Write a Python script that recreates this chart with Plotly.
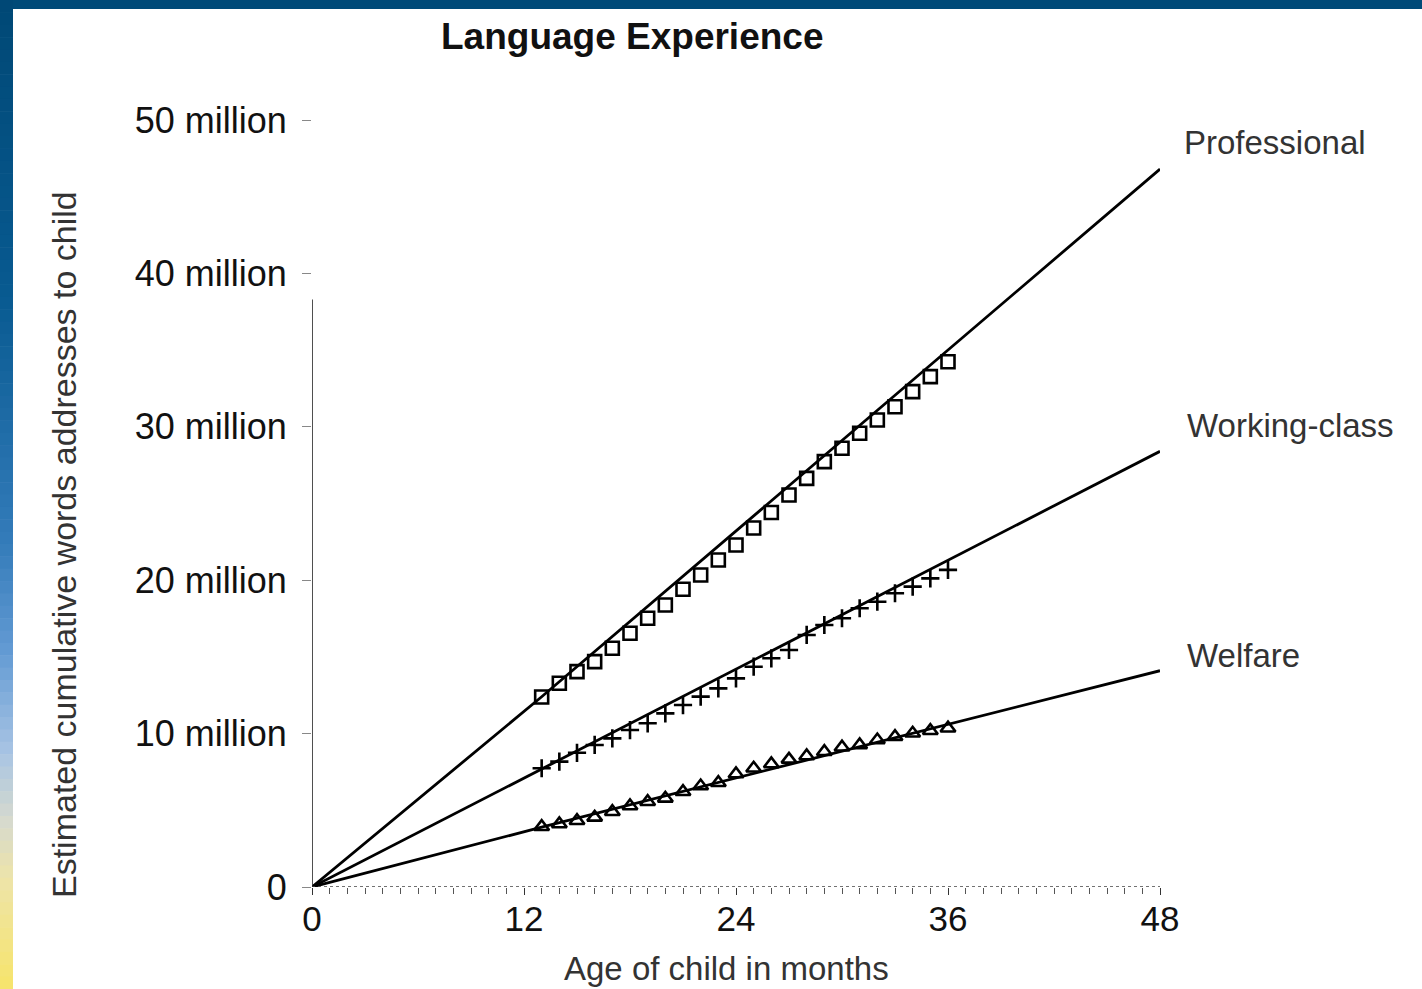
import plotly.graph_objects as go

# Cumulative words addressed to the child (millions), observed months 13-36
months_obs = list(range(13, 37))
professional = [12.39, 13.28, 14.04, 14.69, 15.56, 16.54, 17.52, 18.38, 19.41, 20.34,
                21.32, 22.29, 23.40, 24.41, 25.55, 26.64, 27.73, 28.60, 29.58, 30.44,
                31.31, 32.29, 33.27, 34.24]
working_class = [7.74, 8.17, 8.75, 9.26, 9.69, 10.23, 10.67, 11.32, 11.86, 12.41,
                 12.95, 13.60, 14.36, 14.91, 15.45, 16.43, 17.08, 17.52, 18.17, 18.60,
                 19.15, 19.58, 20.12, 20.67]
welfare = [3.93, 4.11, 4.32, 4.54, 4.91, 5.28, 5.56, 5.78, 6.21, 6.58,
           6.80, 7.37, 7.74, 8.02, 8.32, 8.54, 8.82, 9.11, 9.26, 9.58,
           9.80, 10.02, 10.19, 10.35]

# Extrapolated trend lines (millions) at months 0, 13 and 48
months_fit = [0, 13, 48]
professional_fit = [0, 12.4, 46.8]
working_fit = [0, 7.7, 28.4]
welfare_fit = [0, 3.9, 14.1]

group_names = ["Professional", "Working-class", "Welfare"]
y_tick_vals = [0, 10, 20, 30, 40, 50]
y_tick_text = ["0", "10 million", "20 million", "30 million", "40 million", "50 million"]
x_tick_vals = [0, 12, 24, 36, 48]

FONT = "Liberation Sans, Arial, Helvetica, sans-serif"
W, H = 1422, 989
L, R, T, B = 312, 262, 120, 102
PW, PH = W - L - R, H - T - B


def px_x(p):
    return (p - L) / PW


def px_y(p):
    return (H - B - p) / PH


fig = go.Figure()

for fx, fy in [(months_fit, professional_fit), (months_fit, working_fit), (months_fit, welfare_fit)]:
    fig.add_trace(go.Scatter(x=fx, y=fy, mode="lines",
                             line=dict(color="black", width=2.8),
                             hoverinfo="skip", showlegend=False))

markers = [
    (professional, "square-open", 13, 2.6),
    (working_class, "cross-thin-open", 13, 2.6),
    (welfare, "triangle-up-open", 13, 2.6),
]
for vals, sym, size, lw in markers:
    fig.add_trace(go.Scatter(x=months_obs, y=vals, mode="markers",
                             marker=dict(symbol=sym, size=size, color="black",
                                         line=dict(color="black", width=lw)),
                             showlegend=False, cliponaxis=False))

shapes = []
# dotted baseline and partial vertical axis
shapes.append(dict(type="line", xref="x", yref="y", x0=0, x1=48, y0=0, y1=0,
                   line=dict(color="#444", width=1.6, dash="dot")))
shapes.append(dict(type="line", xref="x", yref="y", x0=0, x1=0, y0=0, y1=38.3,
                   line=dict(color="#222", width=1.6)))

# decorative slide frame: top band and graded left band
top_col = "#004a78"
shapes.append(dict(type="rect", xref="paper", yref="paper", layer="above",
                   x0=px_x(0), x1=px_x(W), y0=px_y(9), y1=px_y(0),
                   fillcolor=top_col, line=dict(width=0)))
stops = [(0.0, (0, 72, 117)), (0.30, (8, 90, 145)), (0.55, (52, 124, 186)),
         (0.66, (100, 155, 212)), (0.76, (168, 196, 228)), (0.83, (214, 218, 206)),
         (0.89, (238, 228, 168)), (1.0, (246, 228, 106))]


def grad(t):
    for (a, ca), (b, cb) in zip(stops[:-1], stops[1:]):
        if a <= t <= b:
            f = (t - a) / (b - a)
            return "rgb(%d,%d,%d)" % tuple(round(ca[i] + (cb[i] - ca[i]) * f) for i in range(3))
    return "rgb(%d,%d,%d)" % stops[-1][1]


n_band = 80
for i in range(n_band):
    y0p = H * i / n_band
    y1p = H * (i + 1) / n_band + 0.6
    shapes.append(dict(type="rect", xref="paper", yref="paper", layer="above",
                       x0=px_x(0), x1=px_x(13), y0=px_y(y1p), y1=px_y(y0p),
                       fillcolor=grad((i + 0.5) / n_band), line=dict(width=0)))

annotations = [
    dict(text="<b>Language Experience</b>", xref="paper", yref="paper",
         x=px_x(632), y=px_y(36), xanchor="center", yanchor="middle", showarrow=False,
         font=dict(family=FONT, size=37, color="#111")),
    dict(text="Estimated cumulative words addresses to child", xref="paper", yref="paper",
         x=px_x(64), y=px_y(545), xanchor="center", yanchor="middle", textangle=-90,
         showarrow=False, font=dict(family=FONT, size=34, color="#333")),
    dict(text="Age of child in months", xref="paper", yref="paper",
         x=px_x(726), y=px_y(968), xanchor="center", yanchor="middle", showarrow=False,
         font=dict(family=FONT, size=33, color="#333")),
]
label_pos = [(1182, 142), (1185, 425), (1185, 655)]
for name, (lx, ly) in zip(group_names, label_pos):
    annotations.append(dict(text=name, xref="paper", yref="paper", x=px_x(lx), y=px_y(ly),
                            xanchor="left", yanchor="middle", showarrow=False,
                            font=dict(family=FONT, size=33, color="#333")))

fig.update_layout(
    width=W, height=H,
    margin=dict(l=L, r=R, t=T, b=B, pad=0),
    paper_bgcolor="white", plot_bgcolor="white",
    showlegend=False,
    shapes=shapes,
    annotations=annotations,
    xaxis=dict(range=[0, 48], tickvals=x_tick_vals, ticktext=[str(v) for v in x_tick_vals],
               showgrid=False, zeroline=False, showline=False,
               ticks="outside", ticklen=7, tickwidth=1.4, tickcolor="#333",
               minor=dict(dtick=1, ticks="outside", ticklen=6, tickwidth=1.2, tickcolor="#555"),
               tickfont=dict(family=FONT, size=35, color="#111"), ticklabelstandoff=-6),
    yaxis=dict(range=[0, 50], tickvals=y_tick_vals, ticktext=y_tick_text,
               showgrid=False, zeroline=False, showline=False,
               ticks="outside", ticklen=9, tickwidth=1.4, tickcolor="#888",
               tickfont=dict(family=FONT, size=36, color="#111"), ticklabelstandoff=8),
)

fig.write_html("out.html")
